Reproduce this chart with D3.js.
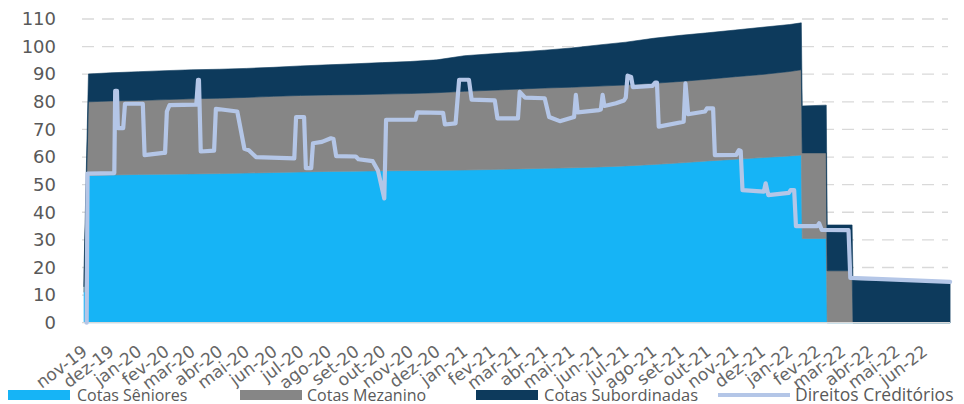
<!DOCTYPE html>
<html>
<head>
<meta charset="utf-8">
<script src="https://cdn.jsdelivr.net/npm/d3@7"></script>
<style>
  html, body { margin: 0; padding: 0; background: #fff; }
  svg { display: block; }
</style>
</head>
<body>
<svg id="chart" width="964" height="404"></svg>
<script>
// ---------------- DATA ----------------
const areaDates = [
  "2019-11-01","2019-11-06",
  "2019-12-01","2020-01-01","2020-02-01","2020-03-01","2020-04-01","2020-05-01","2020-06-01",
  "2020-07-01","2020-08-01","2020-09-01","2020-10-01","2020-11-01","2020-12-01",
  "2021-01-01","2021-02-01","2021-03-01","2021-04-01","2021-05-01","2021-06-01",
  "2021-07-01","2021-08-01","2021-09-01","2021-10-01","2021-11-01","2021-12-01","2022-01-01",
  "2022-01-14","2022-01-15","2022-02-11","2022-02-12","2022-03-12","2022-03-13","2022-05-01","2022-06-30"
];
const cotasSeniores = [
  11, 53.3,
  53.5, 53.7, 53.8, 53.9, 54.0, 54.2, 54.4,
  54.6, 54.8, 54.9, 55.0, 55.1, 55.2,
  55.3, 55.5, 55.7, 55.9, 56.1, 56.4,
  56.8, 57.3, 57.9, 58.6, 59.2, 59.8, 60.4,
  60.7, 30.5, 30.5, 0, 0, 0, 0, 0
];
const cotasMezanino = [
  2, 26.7,
  26.8, 26.8, 27.0, 27.2, 27.3, 27.4, 27.6,
  27.7, 27.7, 27.7, 27.8, 27.9, 28.1,
  28.5, 28.7, 28.9, 29.1, 29.2, 29.3,
  29.3, 29.4, 29.5, 29.6, 29.9, 30.1, 30.6,
  30.9, 31.0, 31.0, 18.8, 18.8, 0, 0, 0
];
const cotasSubordinadas = [
  5.5, 10.1,
  10.2, 10.4, 10.5, 10.5, 10.5, 10.5, 10.5,
  10.7, 10.9, 11.2, 11.4, 11.6, 11.9,
  12.9, 13.2, 13.4, 13.7, 14.2, 14.9,
  15.5, 16.3, 16.7, 16.8, 16.9, 17.1, 17.0,
  17.0, 17.0, 17.3, 16.6, 16.6, 15.5, 15.2, 14.6
];

const creditDates = [
  "2019-11-04","2019-11-05","2019-12-05","2019-12-06","2019-12-08","2019-12-09","2019-12-15","2019-12-17",
  "2020-01-06","2020-01-08","2020-01-29","2020-01-31","2020-02-02","2020-02-05","2020-03-06","2020-03-08",
  "2020-03-09","2020-03-11","2020-03-26","2020-03-28","2020-04-21","2020-04-29","2020-05-04","2020-05-12",
  "2020-06-24","2020-06-26","2020-07-05","2020-07-07","2020-07-13","2020-07-15","2020-07-25","2020-08-04",
  "2020-08-07","2020-08-10","2020-09-01","2020-09-04","2020-09-20","2020-09-26","2020-10-03","2020-10-05",
  "2020-11-07","2020-11-09","2020-12-08","2020-12-10","2020-12-22","2020-12-26","2021-01-06","2021-01-09",
  "2021-02-04","2021-02-07","2021-03-02","2021-03-04","2021-03-10","2021-04-01","2021-04-06","2021-04-18",
  "2021-05-04","2021-05-06","2021-05-08","2021-06-01","2021-06-03","2021-06-05","2021-06-07","2021-06-20",
  "2021-06-29","2021-07-01","2021-07-03","2021-07-07","2021-07-09","2021-07-31","2021-08-03","2021-08-05",
  "2021-08-07","2021-09-04","2021-09-06","2021-09-09","2021-09-28","2021-09-30","2021-10-07","2021-10-09",
  "2021-11-02","2021-11-05","2021-11-07","2021-11-09","2021-12-03","2021-12-05","2021-12-08","2021-12-31",
  "2022-01-02","2022-01-06","2022-01-08","2022-02-01","2022-02-03","2022-02-06","2022-03-08","2022-03-10",
  "2022-04-15","2022-06-30"
];
const direitosCreditorios = [
  0, 54, 54.2, 84, 84, 70.5, 70.5, 79.3,
  79.3, 60.7, 61.5, 61.5, 76.5, 78.8, 79, 88,
  88, 62, 62.3, 77.5, 76.5, 63, 62.5, 60,
  59.5, 74.5, 74.5, 56, 56, 65, 65.5, 66.8,
  66.5, 60.3, 60.2, 59.2, 58.5, 55, 45, 73.5,
  73.5, 76.2, 76, 71.8, 72.2, 88, 88, 80.8,
  80.5, 74, 74, 83.6, 81.5, 81.3, 74.5, 73,
  74.5, 82.5, 76.2, 77, 77.2, 82.5, 78.5, 79.5,
  80.5, 81.5, 89.5, 89, 85.3, 85.8, 87, 87,
  71, 72.8, 86.7, 75.5, 76.5, 77.6, 77.6, 60.7,
  60.8, 62.5, 62.2, 48, 47.5, 50.5, 46.2, 47,
  48, 48, 35, 35, 36, 33.6, 33.5, 16.2,
  15.8, 14.8
];

const monthTickDates = [
  "2019-11-01","2019-12-01","2020-01-01","2020-02-01","2020-03-01","2020-04-01","2020-05-01","2020-06-01",
  "2020-07-01","2020-08-01","2020-09-01","2020-10-01","2020-11-01","2020-12-01","2021-01-01","2021-02-01",
  "2021-03-01","2021-04-01","2021-05-01","2021-06-01","2021-07-01","2021-08-01","2021-09-01","2021-10-01",
  "2021-11-01","2021-12-01","2022-01-01","2022-02-01","2022-03-01","2022-04-01","2022-05-01","2022-06-01"
];
const monthTickLabels = [
  "nov-19","dez-19","jan-20","fev-20","mar-20","abr-20","mai-20","jun-20",
  "jul-20","ago-20","set-20","out-20","nov-20","dez-20","jan-21","fev-21",
  "mar-21","abr-21","mai-21","jun-21","jul-21","ago-21","set-21","out-21",
  "nov-21","dez-21","jan-22","fev-22","mar-22","abr-22","mai-22","jun-22"
];
const yTicks = [0,10,20,30,40,50,60,70,80,90,100,110];

const seriesNames = ["Cotas Sêniores","Cotas Mezanino","Cotas Subordinadas","Direitos Creditórios"];
const seriesColors = ["#16B4F6","#868686","#0D3A5C","#B4C6E7"];

// ---------------- CHART ----------------
const parse = d3.timeParse("%Y-%m-%d");
const svg = d3.select("#chart");

const x = d3.scaleTime()
  .domain([parse("2019-11-01"), parse("2022-07-01")])
  .range([84, 951]);
const y = d3.scaleLinear().domain([0, 110]).range([322.7, 19]);

// gridlines
svg.append("g").selectAll("line")
  .data(yTicks.filter(v => v > 0))
  .join("line")
  .attr("x1", 82).attr("x2", 948)
  .attr("y1", d => y(d)).attr("y2", d => y(d))
  .attr("stroke", "#D9D9D9").attr("stroke-width", 1.3)
  .attr("stroke-dasharray", "12,8");

// stacked areas
const table = areaDates.map((d, i) => ({
  date: parse(d),
  sen: cotasSeniores[i],
  mez: cotasMezanino[i],
  sub: cotasSubordinadas[i]
}));
const stack = d3.stack().keys(["sen","mez","sub"]);
const layers = stack(table);
const area = d3.area()
  .x(d => x(d.data.date))
  .y0(d => y(d[0]))
  .y1(d => y(d[1]));
svg.append("g").selectAll("path")
  .data(layers)
  .join("path")
  .attr("d", area)
  .attr("fill", (d, i) => seriesColors[i])
  .attr("stroke", (d, i) => seriesColors[i])
  .attr("stroke-width", 0.6);

// baseline
svg.append("line")
  .attr("x1", 82).attr("x2", 950)
  .attr("y1", y(0)).attr("y2", y(0))
  .attr("stroke", "#D9D9D9").attr("stroke-width", 1.3);

// line series
const lineData = creditDates.map((d, i) => ({ date: parse(d), v: direitosCreditorios[i] }));
svg.append("path")
  .datum(lineData)
  .attr("fill", "none")
  .attr("stroke", seriesColors[3])
  .attr("stroke-width", 4.2)
  .attr("stroke-linejoin", "round")
  .attr("stroke-linecap", "round")
  .attr("d", d3.line().x(d => x(d.date)).y(d => y(d.v)));

// y axis
const yAxis = svg.append("g")
  .attr("transform", "translate(58,0)")
  .call(d3.axisLeft(y).tickValues(yTicks).tickSize(0).tickPadding(2));
yAxis.select(".domain").remove();
yAxis.selectAll("text")
  .attr("font-family", "DejaVu Sans")
  .attr("font-size", 18)
  .attr("fill", "#595959");

// x axis
const tickDates = monthTickDates.map(parse);
const xAxis = svg.append("g")
  .attr("transform", "translate(0,322.7)")
  .call(d3.axisBottom(x).tickValues(tickDates).tickSize(0)
    .tickFormat((d, i) => monthTickLabels[i]));
xAxis.select(".domain").remove();
xAxis.selectAll("text")
  .attr("font-family", "DejaVu Sans")
  .attr("font-size", 17)
  .attr("fill", "#666666")
  .attr("text-anchor", "end")
  .attr("dy", null)
  .attr("y", null)
  .attr("transform", "translate(4,31) rotate(-37)");

// legend
const legendItems = [
  { sx: 8, tx: 77 },
  { sx: 240, tx: 307 },
  { sx: 476, tx: 544 },
  { sx: 718, tx: 795 }
];
const legendFont = [16, 16, 16.5, 17.5];
const lg = svg.append("g");
seriesNames.forEach((name, i) => {
  const it = legendItems[i];
  if (i < 3) {
    lg.append("rect").attr("x", it.sx).attr("y", 390).attr("width", 62).attr("height", 10)
      .attr("fill", seriesColors[i]);
  } else {
    lg.append("line").attr("x1", it.sx).attr("x2", it.sx + 72)
      .attr("y1", 395).attr("y2", 395)
      .attr("stroke", seriesColors[i]).attr("stroke-width", 4);
  }
  lg.append("text").attr("x", it.tx).attr("y", 400.5)
    .attr("font-family", "Open Sans").attr("font-size", legendFont[i])
    .attr("fill", "#595959").text(name);
});
</script>
</body>
</html>
